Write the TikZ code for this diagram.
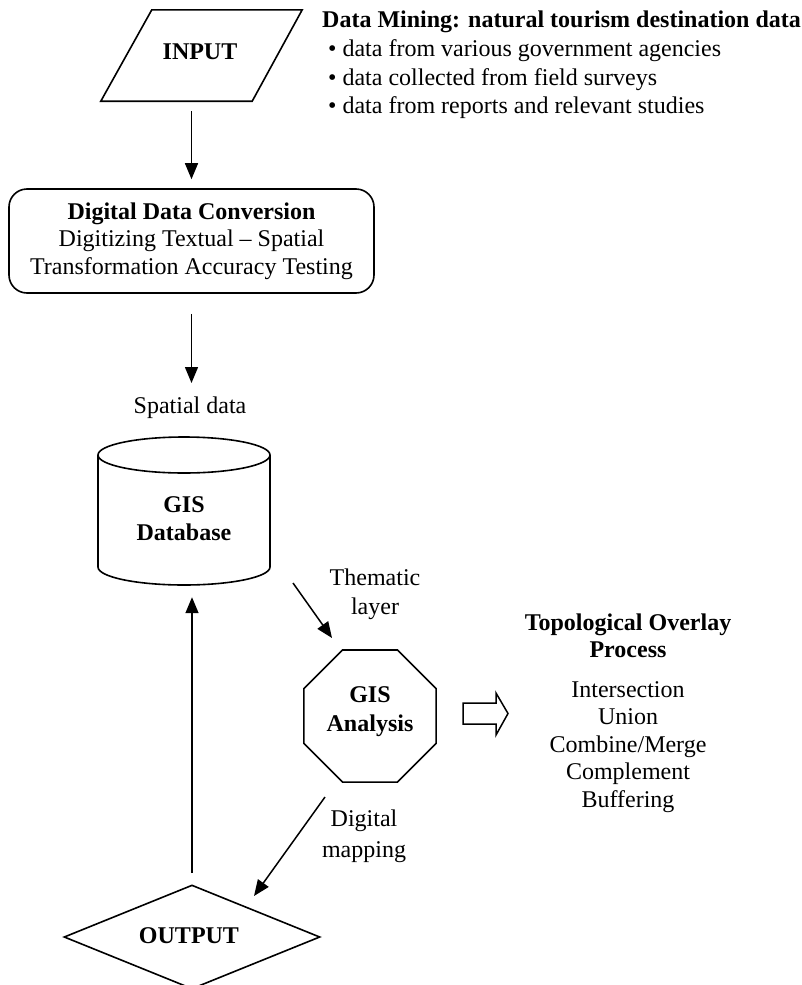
\documentclass[tikz,border=0pt]{standalone}
\usepackage{fontspec}
\setmainfont{Liberation Serif}
\usetikzlibrary{shapes.geometric,arrows.meta}
\begin{document}
\begin{tikzpicture}[x=1pt,y=-1pt,
  txt/.style={font=\fontsize{24}{27.5}\selectfont, inner sep=0pt, align=center},
  btxt/.style={font=\fontsize{24}{27.5}\selectfont\bfseries, inner sep=0pt, align=center},
  arr/.style={line width=1.5pt,-{Triangle[length=16pt,width=13pt]}},
  shp/.style={draw, line width=1.6pt},
  ]
\useasboundingbox (0,0) rectangle (802,985);
% INPUT parallelogram
\node (input) [minimum width=201pt, minimum height=91pt, inner sep=0pt] at (201.5,55.5) {};
\draw[shp] ([xshift=51pt]input.north west) -- (input.north east) -- ([xshift=-50pt]input.south east) -- (input.south west) -- cycle;
\node[btxt] (inputlbl) at (200,52) {INPUT};
% data mining text
\node[txt, align=left, anchor=west, font=\fontsize{24}{28.7}\selectfont] (mining) at (322,65)
  {\textbf{Data Mining: natural tourism destination data}\\
   \hspace*{6pt}• data from various government agencies\\
   \hspace*{6pt}• data collected from field surveys\\
   \hspace*{6pt}• data from reports and relevant studies};
% conversion box
\node[txt, shp, rounded corners=18pt, minimum width=365pt, minimum height=104pt] (conv) at (191.5,241)
  {\textbf{Digital Data Conversion}\\Digitizing Textual – Spatial\\Transformation Accuracy Testing};
\draw[arr, shorten <=10pt, shorten >=9pt] (input.south -| conv.north) -- (conv.north);
% spatial data
\node[txt] (sd) at (190,408) {Spatial data};
\coordinate (sdtop) at (191.5,383);
\draw[arr, shorten <=20pt] (conv.south) -- (sdtop);
% cylinder
\node[minimum width=172pt, minimum height=148pt, inner sep=0pt] (db) at (184,511) {};
\draw[shp] (184,455) ellipse [x radius=86pt, y radius=18pt];
\draw[shp] (98,455) -- (98,567) arc[start angle=180, end angle=360, x radius=86pt, y radius=18pt] -- (270,455);
\node[btxt, font=\fontsize{24}{28}\selectfont\bfseries] (dblbl) at (184,519) {GIS\\Database};
% thematic layer
\coordinate (th1) at (293,583);
\coordinate (th2) at (332,638);
\draw[arr] (th1) -- (th2);
\node[txt, font=\fontsize{24}{29}\selectfont] (thlbl) at (375,594) {Thematic\\layer};
% GIS analysis octagon
\node[shp, regular polygon, regular polygon sides=8, minimum size=143pt, inner sep=0pt] (ana) at (370,716) {};
\node[btxt, font=\fontsize{24}{29}\selectfont\bfseries] (analbl) at (370,712) {GIS\\Analysis};
% block arrow
\draw[line width=1.5pt] (463,703) -- (496,703) -- (496,693) -- (508,713.5) -- (496,735) -- (496,724) -- (463,724) -- cycle;
% topological overlay
\node[btxt, font=\fontsize{24}{27}\selectfont\bfseries] (topo) at (628,636) {Topological Overlay\\Process};
\node[txt] (ops) at (628,747) {Intersection\\Union\\Combine/Merge\\Complement\\Buffering};
% digital mapping
\coordinate (dm1) at (325,797);
\coordinate (dm2) at (254,896);
\draw[arr] (dm1) -- (dm2);
\node[txt, font=\fontsize{24}{31}\selectfont] (dmlbl) at (364,836) {Digital\\mapping};
% output diamond
\node[shp, diamond, minimum width=256pt, minimum height=104pt, inner sep=0pt] (out) at (192,937) {};
\node[btxt] (outlbl) at (189,936) {OUTPUT};
\draw[arr, shorten <=11pt, shorten >=12pt] (out.north) -- (out.north |- db.south);
\end{tikzpicture}
\end{document}
